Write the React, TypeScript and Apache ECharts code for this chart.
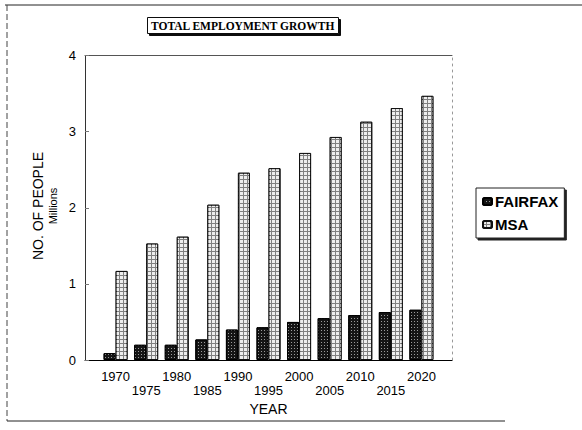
import React, { useEffect, useRef } from "react";
import * as echarts from "echarts";

const years = ["1970", "1975", "1980", "1985", "1990", "1995", "2000", "2005", "2010", "2015", "2020"];
const fairfax = [0.09, 0.2, 0.2, 0.27, 0.4, 0.43, 0.5, 0.55, 0.59, 0.63, 0.66];
const msa = [1.17, 1.53, 1.62, 2.04, 2.46, 2.52, 2.72, 2.93, 3.13, 3.31, 3.47];
const yTicks = [0, 1, 2, 3, 4];

const SANS = "'Liberation Sans', Arial, sans-serif";
const SERIF = "'Liberation Serif', 'Times New Roman', serif";

export default function App() {
  const ref = useRef<HTMLDivElement>(null);
  useEffect(() => {
    if (!ref.current) return;
    const chart = echarts.init(ref.current, undefined, { renderer: "svg" });
    const option: any = {
      animation: false,
      backgroundColor: "#fff",
      title: {
        text: "TOTAL EMPLOYMENT GROWTH",
        left: 147,
        top: 17,
        padding: [3, 4, 2, 4],
        borderColor: "#111",
        borderWidth: 1,
        shadowColor: "#111",
        shadowOffsetX: 2,
        shadowOffsetY: 2,
        shadowBlur: 0,
        backgroundColor: "#fff",
        textStyle: { fontFamily: SERIF, fontWeight: "bold", fontSize: 11.5, color: "#000" },
      },
      legend: {
        orient: "vertical",
        left: 476,
        top: 188,
        padding: [6, 6, 6, 6],
        itemGap: 8,
        itemWidth: 9,
        itemHeight: 7,
        borderColor: "#222",
        borderWidth: 1,
        backgroundColor: "#fff",
        shadowColor: "#222",
        shadowOffsetX: 2,
        shadowOffsetY: 2,
        shadowBlur: 0,
        textStyle: { fontFamily: SANS, fontSize: 15, fontWeight: "bold", color: "#000", padding: [0, 0, 0, -2] },
        data: ["FAIRFAX", "MSA"],
      },
      grid: {
        left: 85,
        right: 130,
        top: 55.5,
        bottom: 70,
        show: false,
      },
      xAxis: [
        {
          type: "value",
          min: -1,
          max: 11,
          interval: 1,
          splitLine: { show: false },
          axisTick: { show: false },
          axisLine: { show: true, onZero: false, lineStyle: { color: "#000", width: 1 } },
          axisLabel: {
            fontFamily: SANS,
            fontSize: 13,
            color: "#000",
            margin: 9,
            lineHeight: 14,
            showMinLabel: true,
            showMaxLabel: true,
            formatter: (v: number) => {
              const i = Math.round(v);
              if (i < 0 || i >= years.length) return "";
              return i % 2 === 0 ? years[i] : "\n" + years[i];
            },
          },
          name: "YEAR",
          nameLocation: "middle",
          nameGap: 40,
          nameTextStyle: { fontFamily: SANS, fontSize: 14, color: "#000" },
        },
        {
          type: "value",
          position: "top",
          min: -1,
          max: 11,
          splitLine: { show: false },
          axisTick: { show: false },
          axisLabel: { show: false },
          axisLine: { show: true, onZero: false, lineStyle: { color: "#555", width: 1 } },
        },
      ],
      yAxis: [
        {
          type: "value",
          min: yTicks[0],
          max: yTicks[yTicks.length - 1],
          interval: 1,
          splitLine: { show: false },
          axisLine: { show: true, onZero: false, lineStyle: { color: "#333", width: 1 } },
          axisTick: { show: true, inside: true, length: 4, lineStyle: { color: "#777" } },
          axisLabel: { fontFamily: SANS, fontSize: 13, color: "#000", margin: 9 },
        },
        {
          type: "value",
          position: "right",
          min: yTicks[0],
          max: yTicks[yTicks.length - 1],
          interval: 1,
          splitLine: { show: false },
          axisTick: { show: false },
          axisLabel: { show: false },
          axisLine: { show: true, onZero: false, lineStyle: { color: "#999", width: 1, type: [2, 4] } },
        },
      ],
      graphic: [
        { type: "line", shape: { x1: 5, y1: 5, x2: 582, y2: 5 }, style: { stroke: "#222", lineWidth: 1 } },
        { type: "line", shape: { x1: 7, y1: 5, x2: 7, y2: 421 }, style: { stroke: "#444", lineWidth: 1, lineDash: [6, 3] } },
        { type: "line", shape: { x1: 7, y1: 421, x2: 505, y2: 421 }, style: { stroke: "#222", lineWidth: 1 } },
        {
          type: "text",
          x: 38,
          y: 206,
          rotation: Math.PI / 2,
          style: {
            text: "NO. OF PEOPLE",
            fontFamily: SANS,
            fontSize: 14,
            fill: "#000",
            align: "center",
            verticalAlign: "middle",
          },
        },
        {
          type: "text",
          x: 53,
          y: 206,
          rotation: Math.PI / 2,
          style: {
            text: "Millions",
            fontFamily: SANS,
            fontSize: 11,
            fill: "#000",
            align: "center",
            verticalAlign: "middle",
          },
        },
      ],
      series: [
        {
          name: "FAIRFAX",
          type: "bar",
          barWidth: 12,
          barGap: "0%",
          data: fairfax.map((v, i) => [i, v]),
          itemStyle: {
            color: "#151515",
            borderColor: "#000",
            borderWidth: 1,
            decal: { symbol: "rect", symbolSize: 1, color: "#9a9a9a", dashArrayX: [1, 2], dashArrayY: [1, 2] },
          },
        },
        {
          name: "MSA",
          type: "bar",
          barWidth: 12,
          barGap: "0%",
          data: msa.map((v, i) => [i, v]),
          itemStyle: {
            color: "#808080",
            borderColor: "#111",
            borderWidth: 1,
            decal: { symbol: "rect", symbolSize: 1, color: "#eeeeee", dashArrayX: [3, 1], dashArrayY: [3, 1] },
          },
        },
      ],
    };
    chart.setOption(option);
    return () => chart.dispose();
  }, []);
  return <div ref={ref} style={{ width: 582, height: 430, position: "absolute", left: 0, top: 0 }} />;
}
